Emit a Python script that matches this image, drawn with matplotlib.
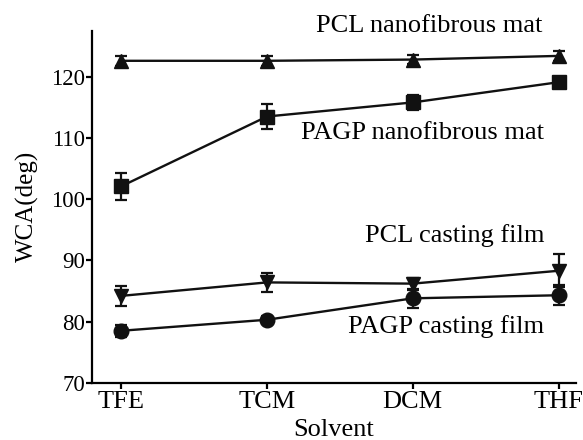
import numpy as np
import matplotlib.pyplot as plt

plt.rcParams['font.family'] = ['Liberation Serif', 'DejaVu Serif']

solvents = ['TFE', 'TCM', 'DCM', 'THF']

pcl_mat = [122.6, 122.6, 122.8, 123.4]
pcl_mat_err = [0.8, 0.8, 0.8, 0.8]
pagp_mat = [102.1, 113.5, 115.8, 119.1]
pagp_mat_err = [2.2, 2.1, 1.2, 0.5]
pcl_film = [84.2, 86.4, 86.2, 88.3]
pcl_film_err = [1.6, 1.6, 1.0, 2.7]
pagp_film = [78.5, 80.3, 83.8, 84.3]
pagp_film_err = [1.0, 0.6, 1.6, 1.6]

series = [
    (pcl_mat, pcl_mat_err, '^'),
    (pagp_mat, pagp_mat_err, 's'),
    (pcl_film, pcl_film_err, 'v'),
    (pagp_film, pagp_film_err, 'o'),
]

fig = plt.figure(figsize=(5.83, 4.40), dpi=100)
ax = fig.add_axes([0.158, 0.13, 0.83, 0.80])

x = np.arange(len(solvents))
for vals, err, m in series:
    ax.errorbar(x, vals, yerr=err, color='#111111', marker=m, markersize=10.5,
                linewidth=1.7, elinewidth=1.6, capsize=4, capthick=1.6)

ax.set_xlim(-0.2, 3.12)
ax.set_ylim(70, 127.5)
ax.set_yticks([70, 80, 90, 100, 110, 120])
ax.set_xticks(x)
ax.set_xticklabels(solvents)
ax.spines['top'].set_visible(False)
ax.spines['right'].set_visible(False)
ax.spines['left'].set_linewidth(1.6)
ax.spines['bottom'].set_linewidth(1.6)
ax.tick_params(axis='x', labelsize=19, width=1.6, length=4, direction='out', pad=2)
ax.tick_params(axis='y', labelsize=16.5, width=1.6, length=4, direction='out', pad=1)
ax.set_xlabel('Solvent', fontsize=19, labelpad=4)
ax.set_ylabel('WCA(deg)', fontsize=18, labelpad=9)

ax.text(2.11, 127.3, 'PCL nanofibrous mat', fontsize=19, ha='center', va='baseline', clip_on=False)
ax.text(2.07, 109.9, 'PAGP nanofibrous mat', fontsize=19, ha='center', va='baseline')
ax.text(2.29, 93.0, 'PCL casting film', fontsize=19, ha='center', va='baseline')
ax.text(2.23, 78.1, 'PAGP casting film', fontsize=19, ha='center', va='baseline')

fig.savefig('out.png', dpi=100)
